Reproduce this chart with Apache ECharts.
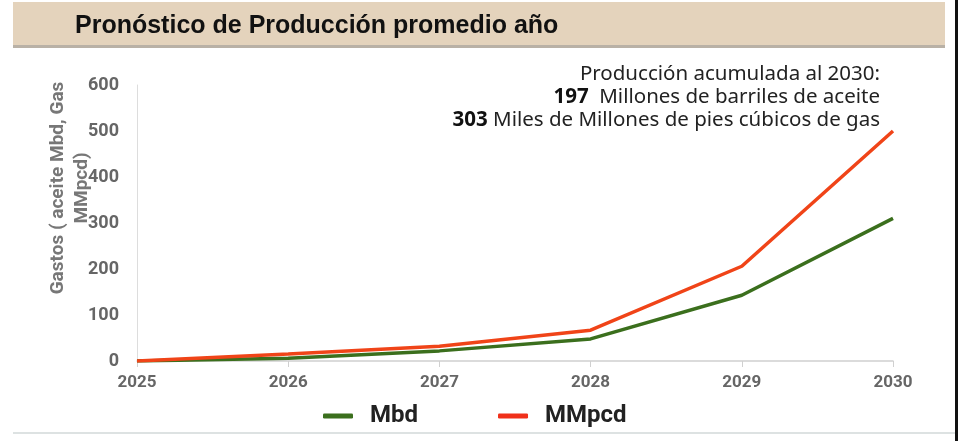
<!DOCTYPE html>
<html>
<head>
<meta charset="utf-8">
<script src="https://cdn.jsdelivr.net/npm/echarts@6/dist/echarts.min.js"></script>
<style>
html,body{margin:0;padding:0;background:#fff;}
#container{width:958px;height:441px;}
</style>
</head>
<body>
<div id="container"></div>
<script>
var years = ['2025', '2026', '2027', '2028', '2029', '2030'];
var mbd = [0, 6, 22, 48, 143, 310];
var mmpcd = [0, 15, 32, 67, 206, 500];
var yTicks = [0, 100, 200, 300, 400, 500, 600];

var noteFont = '20.5px "Noto Sans", sans-serif';
var noteRich = {b: {fontWeight: 'bold', fontSize: 20.5, fontFamily: 'Noto Sans', fill: '#111'}};

var chart = echarts.init(document.getElementById('container'));
var option = {
	animation: false,
	grid: {left: 137, right: 65, top: 85, bottom: 80},
	graphic: [
		{type: 'rect', shape: {x: 13, y: 2, width: 932, height: 44}, style: {fill: '#e4d3bc'}},
		{type: 'rect', shape: {x: 13, y: 45, width: 932, height: 3}, style: {fill: '#b9b1a6'}},
		{type: 'rect', shape: {x: 13, y: 432, width: 945, height: 2}, style: {fill: '#dde2e2'}},
		{type: 'rect', shape: {x: 955, y: 0, width: 3, height: 441}, style: {fill: '#111'}},
		{type: 'text', x: 75, y: 26, style: {
			text: 'Pronóstico de Producción promedio año', verticalAlign: 'middle',
			font: 'bold 25px "Liberation Sans", Arial, sans-serif', fill: '#111'}},
		// nota de producción acumulada, alineada a la derecha
		{type: 'text', x: 880, y: 74, style: {text: 'Producción acumulada al 2030:',
			align: 'right', verticalAlign: 'middle', font: noteFont, fill: '#222'}},
		{type: 'text', x: 880, y: 97, style: {text: '{b|197}  Millones de barriles de aceite',
			align: 'right', verticalAlign: 'middle', font: noteFont, fill: '#222', rich: noteRich}},
		{type: 'text', x: 880, y: 120, style: {text: '{b|303} Miles de Millones de pies cúbicos de gas',
			align: 'right', verticalAlign: 'middle', font: noteFont, fill: '#222', rich: noteRich}},
		// titulo del eje y
		{type: 'text', x: 70, y: 188, rotation: Math.PI / 2, style: {
			text: 'Gastos ( aceite Mbd, Gas\nMMpcd)', align: 'center', verticalAlign: 'middle',
			lineHeight: 24, font: 'bold 19px Roboto, sans-serif', fill: '#777'}}
	],
	legend: {
		left: 318, top: 399,
		data: ['Mbd', 'MMpcd'],
		icon: 'roundRect', itemWidth: 30, itemHeight: 5, itemGap: 80,
		textStyle: {fontSize: 24, fontWeight: 'bold', color: '#222', fontFamily: 'Roboto', padding: [0, 0, 0, 12]}
	},
	xAxis: {
		type: 'category', data: years, boundaryGap: false,
		axisLine: {lineStyle: {color: '#d0d0d0', width: 1.5}},
		axisTick: {show: true, length: 6, lineStyle: {color: '#d0d0d0'}},
		axisLabel: {color: '#666', fontSize: 17, fontWeight: 'bold', fontFamily: 'Roboto', margin: 13}
	},
	yAxis: {
		type: 'value', min: 0, max: 600, interval: 100,
		axisLine: {show: true, lineStyle: {color: '#ddd'}},
		axisTick: {show: false},
		splitLine: {show: false},
		axisLabel: {color: '#666', fontSize: 18, fontWeight: 'bold', fontFamily: 'Roboto', margin: 18,
			formatter: function(v){ return yTicks.indexOf(v) >= 0 ? String(v) : ''; }}
	},
	series: [
		{name: 'Mbd', type: 'line', data: mbd, symbol: 'none',
			lineStyle: {color: '#3b6f1d', width: 3.5}, itemStyle: {color: '#3b6f1d'}},
		{name: 'MMpcd', type: 'line', data: mmpcd, symbol: 'none',
			lineStyle: {color: '#f04418', width: 3.5}, itemStyle: {color: '#f0301a'}}
	]
};
chart.setOption(option);
</script>
</body>
</html>
